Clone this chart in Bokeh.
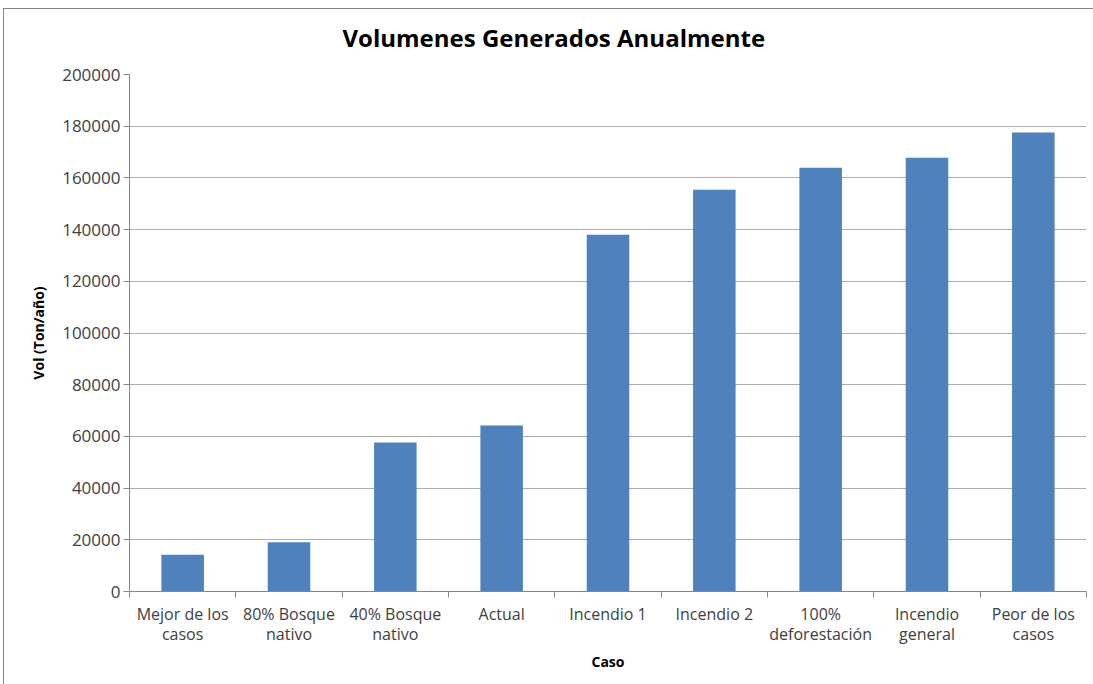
from bokeh.plotting import figure
from bokeh.models import FixedTicker, Range1d, ColumnDataSource
from bokeh.embed import file_html
from bokeh.resources import INLINE

# Scenarios and yearly volume (Ton/año)
casos = [
    "Mejor de los\ncasos",
    "80% Bosque\nnativo",
    "40% Bosque\nnativo",
    "Actual",
    "Incendio 1",
    "Incendio 2",
    "100%\ndeforestación",
    "Incendio\ngeneral",
    "Peor de los\ncasos",
]
volumen = [14200, 19100, 57600, 64200, 138000, 155400, 163900, 167800, 177600]
y_ticks = [0, 20000, 40000, 60000, 80000, 100000, 120000, 140000, 160000, 180000, 200000]

FONT = "Open Sans"
TEXT = "#404040"
AXIS = "#868686"
GRID = "#adadad"
BAR = "#4F81BD"

n = len(casos)
centers = [i + 0.5 for i in range(n)]
bounds = [float(i) for i in range(n + 1)]
src = ColumnDataSource(dict(x=centers, vol=volumen, caso=casos))

p = figure(
    width=1093, height=684,
    output_backend="svg", toolbar_location=None,
    x_range=Range1d(0, n), y_range=Range1d(y_ticks[0], y_ticks[-1]),
    min_border_left=129, min_border_right=7, min_border_top=74, min_border_bottom=93,
    title="Volumenes Generados Anualmente",
)
# chart-area border (left and top edges) painted behind a transparent canvas margin
p.border_fill_alpha = 0
p.styles = {
    "background": "white",
    "box-shadow": "inset 3px 8px 0 0 white, inset 4px 9px 0 0 #868686",
}
p.background_fill_color = "white"
p.outline_line_color = None

p.vbar(x="x", top="vol", width=0.4, source=src, fill_color=BAR, line_color=None)

# Title
p.title.text_font = FONT
p.title.text_font_size = "24px"
p.title.text_font_style = "bold"
p.title.text_color = "black"
p.title.align = "left"
p.title.vertical_align = "top"
p.title.offset = 213
p.title.standoff = 38

# Y axis
ya = p.yaxis[0]
ya.ticker = FixedTicker(ticks=y_ticks, minor_ticks=[])
ya.major_label_overrides = {t: str(t) for t in y_ticks}
ya.axis_label = "Vol (Ton/año)"
ya.axis_label_text_font = FONT
ya.axis_label_text_font_size = "14px"
ya.axis_label_text_font_style = "bold"
ya.axis_label_text_color = "black"
ya.axis_label_standoff = 11
ya.major_label_text_font = FONT
ya.major_label_text_font_size = "17px"
ya.major_label_text_color = TEXT
ya.major_label_standoff = 3
ya.axis_line_color = AXIS
ya.major_tick_line_color = AXIS
ya.major_tick_out = 6
ya.major_tick_in = 0

# X axis: labels at bar centres, tick marks at category boundaries
xa = p.xaxis[0]
xa.ticker = FixedTicker(ticks=centers, minor_ticks=bounds)
xa.major_label_overrides = {c: name for c, name in zip(centers, casos)}
xa.axis_label = "Caso"
xa.axis_label_text_font = FONT
xa.axis_label_text_font_size = "14px"
xa.axis_label_text_font_style = "bold"
xa.axis_label_text_color = "black"
xa.axis_label_standoff = 4
xa.major_label_text_font = FONT
xa.major_label_text_font_size = "16px"
xa.major_label_text_color = TEXT
xa.major_label_text_line_height = 0.95
xa.major_label_standoff = 5
xa.axis_line_color = AXIS
xa.major_tick_out = 0
xa.major_tick_in = 0
xa.minor_tick_line_color = AXIS
xa.minor_tick_out = 6
xa.minor_tick_in = 0

p.xgrid.grid_line_color = None
p.ygrid.ticker = FixedTicker(ticks=y_ticks)
p.ygrid.grid_line_color = GRID
p.ygrid.grid_line_width = 1

open("out.html", "w").write(file_html(p, INLINE))
